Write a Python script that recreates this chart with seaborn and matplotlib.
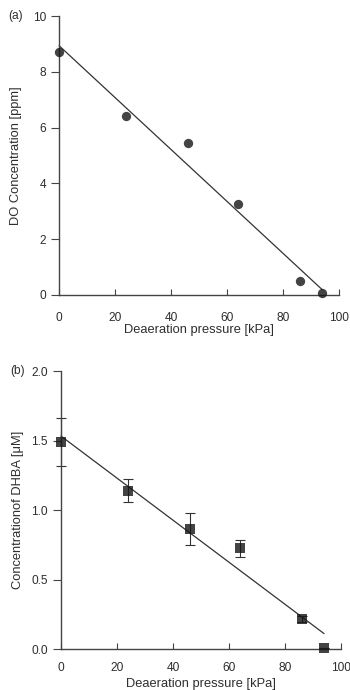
import matplotlib
matplotlib.use("Agg")
import matplotlib.pyplot as plt
import seaborn as sns
import pandas as pd

# Data
pressure = [0, 24, 46, 64, 86, 94]
do_conc = [8.7, 6.4, 5.45, 3.25, 0.5, 0.08]
dhba_conc = [1.49, 1.14, 0.865, 0.725, 0.215, 0.01]
dhba_err = [0.17, 0.08, 0.115, 0.06, 0.02, 0.0]

x_ticks = [0, 20, 40, 60, 80, 100]
y1_ticks = [0, 2, 4, 6, 8, 10]
y2_ticks = [0.0, 0.5, 1.0, 1.5, 2.0]

sns.set_theme(style="ticks")
plt.rcParams['font.family'] = ['Liberation Sans', 'DejaVu Sans']

ink = "#151515"
txt = "#2e2e2e"

df1 = pd.DataFrame({"p": pressure, "do": do_conc})
df2 = pd.DataFrame({"p": pressure, "dhba": dhba_conc, "err": dhba_err})

fig = plt.figure(figsize=(3.5, 6.9), dpi=100)
ax1 = fig.add_axes([0.169, 0.5725, 0.800, 0.4043])
ax2 = fig.add_axes([0.174, 0.0594, 0.800, 0.4029])

LBL = 9.3
TCK = 8.6

# Panel (a)
sns.regplot(data=df1, x="p", y="do", ax=ax1, ci=None, truncate=True,
            scatter_kws=dict(s=45, color=ink, edgecolor=ink, linewidths=0, zorder=3),
            line_kws=dict(color="#333333", lw=0.9), marker="o")
ax1.set_xlim(0, 100)
ax1.set_ylim(0, 10)
ax1.set_xticks(x_ticks)
ax1.set_yticks(y1_ticks)
ax1.set_xlabel("Deaeration pressure [kPa]", fontsize=LBL, color=txt, labelpad=0)
ax1.set_ylabel("DO Concentration [ppm]", fontsize=LBL, color=txt, labelpad=8)
ax1.text(-0.128, 1.0, "(a)", transform=ax1.transAxes, fontsize=TCK, color=txt,
         ha="right", va="center")

# Panel (b)
ax2.errorbar(df2["p"], df2["dhba"], yerr=df2["err"], fmt="none", ecolor="#333333",
             elinewidth=0.8, capsize=3.5, capthick=0.8, zorder=2)
sns.regplot(data=df2, x="p", y="dhba", ax=ax2, ci=None, truncate=True,
            scatter_kws=dict(s=42, color=ink, edgecolor=ink, linewidths=0, zorder=3),
            line_kws=dict(color="#333333", lw=0.9), marker="s")
ax2.set_xlim(0, 100)
ax2.set_ylim(0, 2.0)
ax2.set_xticks(x_ticks)
ax2.set_yticks(y2_ticks)
ax2.set_yticklabels([f"{v:.1f}" for v in y2_ticks])
ax2.set_xlabel("Deaeration pressure [kPa]", fontsize=LBL, color=txt, labelpad=3)
ax2.set_ylabel("Concentrationof DHBA [\u03bcM]", fontsize=LBL, color=txt, labelpad=5.5)
ax2.text(-0.13, 1.0, "(b)", transform=ax2.transAxes, fontsize=TCK, color=txt,
         ha="right", va="center")

for ax, xpad in ((ax1, 12), (ax2, 9)):
    sns.despine(ax=ax)
    for s in ("left", "bottom"):
        ax.spines[s].set_color("#444444")
        ax.spines[s].set_linewidth(1.0)
    ax.tick_params(axis="x", direction="in", length=4, width=0.8, colors="#444444",
                   labelcolor=txt, labelsize=TCK, pad=xpad)
    ax.tick_params(axis="y", direction="out", length=6, width=0.8, colors="#444444",
                   labelcolor=txt, labelsize=TCK, pad=3.5)
    for c in ax.collections:
        c.set_clip_on(False)
    for l in ax.lines:
        l.set_clip_on(False)

fig.savefig("out.png", dpi=100)
